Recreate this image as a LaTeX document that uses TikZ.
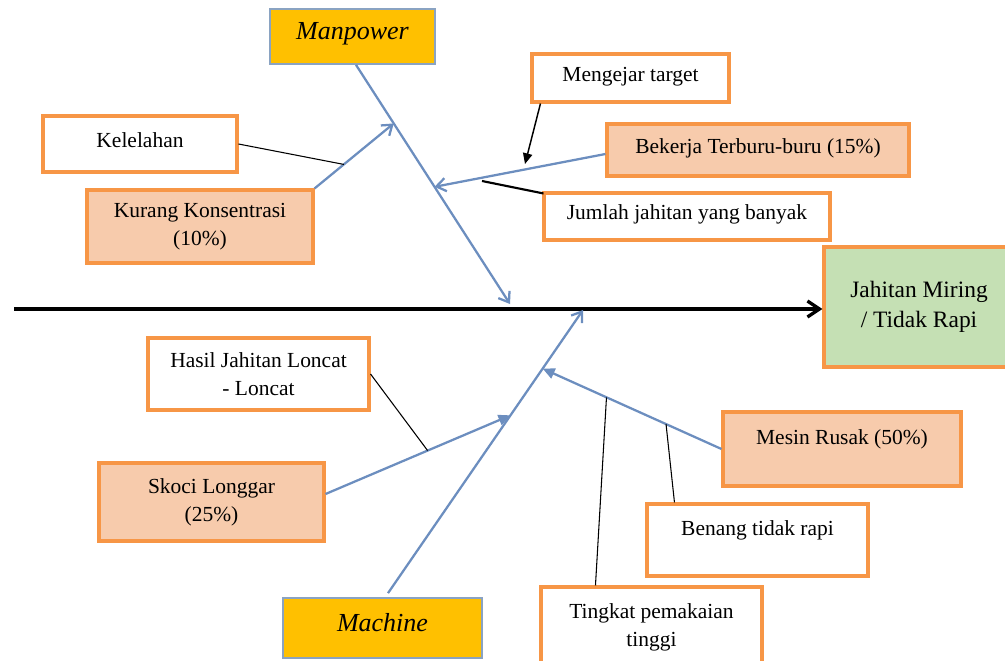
\documentclass[tikz,border=0pt]{standalone}
\usepackage{fontspec}
\setmainfont{Liberation Serif}
\usetikzlibrary{arrows.meta,calc}
\definecolor{edgeorange}{HTML}{F79646}
\definecolor{peach}{HTML}{F7CBAC}
\definecolor{leaf}{HTML}{C5E0B4}
\definecolor{gold}{HTML}{FFC000}
\definecolor{headedge}{HTML}{8AA3C2}
\definecolor{boneblue}{HTML}{6C8EBF}
\begin{document}
\begin{tikzpicture}[x=0.75pt,y=-0.75pt,
  wh/.style 2 args={minimum width=#1*0.75pt,minimum height=#2*0.75pt},
  basebox/.style={rectangle,inner sep=0pt,draw=edgeorange,line width=2.3pt,
    font=\fontsize{16.1}{21}\selectfont,align=center},
  oneline/.style={text height=0.7em,text depth=0.22em},
  plainbox/.style={basebox,fill=white},
  causebox/.style={basebox,fill=peach},
  headbox/.style={rectangle,inner sep=0pt,draw=headedge,line width=1.3pt,fill=gold,
    font=\fontsize{19.5}{24}\selectfont\itshape,text height=0.7em,text depth=0.22em},
  effectbox/.style={basebox,fill=leaf,font=\fontsize{17.6}{22.5}\selectfont},
  bone/.style={draw=boneblue,line width=1.7pt},
  openhead/.style={-{Straight Barb[length=7pt,width=10pt]}},
  solidhead/.style={-{Triangle[length=8pt,width=7pt]}},
  bluehead/.style={-{Triangle[length=9pt,width=8pt,fill=boneblue]}},
  twig/.style={draw=black,line width=0.8pt},
  spine/.style={draw=black,line width=2.5pt,-{Straight Barb[length=9pt,width=12pt]}}
]
\clip (0,0) rectangle (1005,660);

% category heads
\node[headbox,wh={165}{55}] (mp) at (352.5,36.5) {Manpower};
\node[headbox,wh={199}{60}] (mc) at (382.5,628) {Machine};

% effect
\node[effectbox,wh={190}{120}] (eff) at (919,307) {Jahitan Miring\\/ Tidak Rapi};

% causes and sub-causes
\node[plainbox,oneline,wh={194}{56}] (kel) at (140,144) {Kelelahan};
\node[causebox,wh={226}{73}] (kur) at (200,226.5) {Kurang Konsentrasi\\(10\%)};
\node[plainbox,oneline,wh={197}{48}] (men) at (630.5,78) {Mengejar target};
\node[causebox,oneline,wh={302}{52}] (bek) at (758,150) {Bekerja Terburu-buru (15\%)};
\node[plainbox,oneline,wh={286}{47}] (jum) at (687,216.5) {Jumlah jahitan yang banyak};
\node[plainbox,wh={221}{72}] (has) at (258.5,374) {Hasil Jahitan Loncat\\- Loncat};
\node[causebox,wh={225}{78}] (sk) at (211.5,502) {Skoci Longgar\\(25\%)};
\node[causebox,text height=0.7em,text depth=14.3pt,wh={238}{74}] (mes) at (842,449) {Mesin Rusak (50\%)};
\node[plainbox,text height=0.7em,text depth=14.3pt,wh={221}{72}] (ben) at (757.5,540) {Benang tidak rapi};
\node[plainbox,wh={221}{81}] (ting) at (651.5,627.5) {Tingkat pemakaian\\tinggi};

% spine
\coordinate (tail) at (14,309);
\draw[spine] (tail) -- (tail -| eff.west);

% main bones
\coordinate (mroot) at ($(mp.south)+(3.5,0)$);
\coordinate (mtip) at (510,304);
\coordinate (croot) at ($(mc.north)+(5.5,-4)$);
\coordinate (ctip) at (583,310);
\draw[bone,openhead] (mroot) -- (mtip);
\draw[bone,openhead] (croot) -- (ctip);

% points where the cause bones meet the main bones
\coordinate (kurtip) at ($(mroot)!0.245!(mtip)$);
\coordinate (bektip) at ($(mroot)!0.51!(mtip)$);
\coordinate (sktip) at ($(croot)!0.628!(ctip)$);
\coordinate (mestip) at ($(croot)!0.793!(ctip)$);

% Manpower side
\draw[bone,openhead] (kur.north east) -- (kurtip);
\coordinate (kj) at ($(kur.north east)!0.37!(kurtip)$);
\draw[twig] (kel.east) -- (kj);
\coordinate (bekroot) at ($(bek.west)+(0,4)$);
\draw[bone,openhead] (bekroot) -- (bektip);
\coordinate (mengtip) at (525,164);
\draw[draw=black,line width=1.1pt,solidhead] ($(men.south west)+(10,0)$) -- (mengtip);
\coordinate (jj) at (482,181);
\draw[draw=black,line width=1.6pt] ($(jum.north west)+(1,2)$) -- (jj);

% Machine side
\coordinate (skroot) at ($(sk.east)+(0,-8)$);
\draw[bone,bluehead] (skroot) -- (sktip);
\coordinate (hj) at ($(skroot)!0.552!(sktip)$);
\draw[twig] (has.east) -- (hj);
\draw[bone,bluehead] (mes.west) -- (mestip);
\coordinate (bj) at ($(mes.west)!0.31!(mestip)$);
\draw[twig] ($(ben.north west)+(29,0)$) -- (bj);
\coordinate (tj) at ($(mes.west)!0.643!(mestip)$);
\draw[twig] ($(ting.north west)+(56,0)$) -- (tj);
\end{tikzpicture}
\end{document}
